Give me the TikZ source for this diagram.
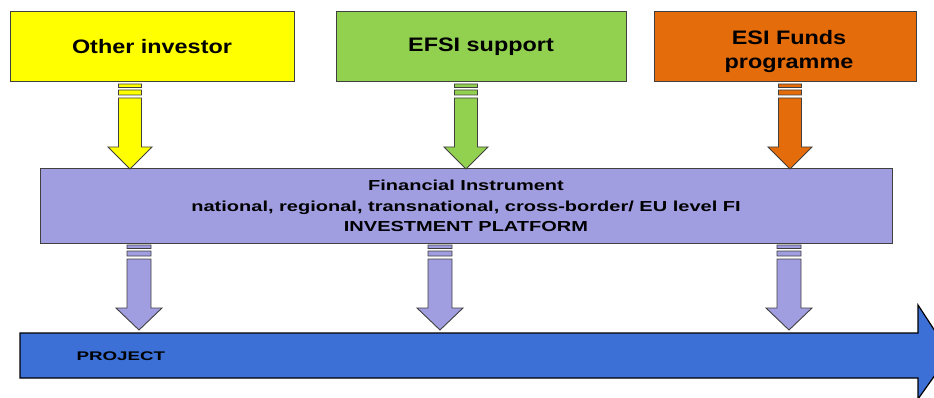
\documentclass[tikz,border=0pt]{standalone}
\usepackage{fontspec}
\setmainfont{Liberation Sans}
\newfontfamily\topfont[FakeStretch=1.2]{Liberation Sans}
\newfontfamily\fifont[FakeStretch=1.38]{Liberation Sans}
\newfontfamily\prfont[FakeStretch=1.5]{Liberation Sans}
\usetikzlibrary{calc}
\definecolor{cyel}{HTML}{FFFF00}
\definecolor{cgrn}{HTML}{92D050}
\definecolor{corg}{HTML}{E46C0A}
\definecolor{clav}{HTML}{A09EE0}
\definecolor{cblu}{HTML}{3C70D6}
\definecolor{cedge}{HTML}{404040}
\newcommand{\stripearrow}[5]{% start, end, colour, body half width, head half width
  \path let \p1=(#1), \p2=(#2) in
    [draw=cedge, line width=0.9pt, fill=#3]
      (\x1-#4pt,\y1-15pt) -- (\x1-#4pt,\y2+22pt) -- (\x1-#5pt,\y2+22pt) -- (\x1,\y2)
      -- (\x1+#5pt,\y2+22pt) -- (\x1+#4pt,\y2+22pt) -- (\x1+#4pt,\y1-15pt) -- cycle
    [draw=cedge, line width=0.9pt, fill=#3!55!black]
      (\x1-#4pt,\y1-1pt) rectangle (\x1+#4pt,\y1-4.5pt)
    [draw=cedge, line width=0.9pt, fill=#3]
      (\x1-#4pt,\y1-7pt) rectangle (\x1+#4pt,\y1-12pt);
}
\tikzset{
  topbox/.style={draw=cedge, line width=1pt, minimum height=70pt, inner sep=2pt,
    font=\topfont\fontsize{19.5}{24}\selectfont\bfseries, align=center},
  fibox/.style={draw=cedge, line width=1pt, fill=clav, minimum width=852pt, minimum height=74pt,
    font=\fifont\fontsize{14.5}{20.5}\selectfont\bfseries, align=center},
  lbl/.style={font=\prfont\fontsize{12.5}{14}\selectfont\bfseries}
}
\begin{document}
\begin{tikzpicture}[x=1pt,y=1pt]
\clip (0,0) rectangle (934,-398);
\fill[white] (0,0) rectangle (934,-398);

\node[topbox, fill=cyel, minimum width=284pt] (oi) at (152,-47) {Other investor};
\node[topbox, fill=cgrn, minimum width=290pt] (ef) at (481,-47) {EFSI support};
\node[topbox, fill=corg, minimum width=262pt] (es) at (785,-47)
  {\hspace*{8pt}\raisebox{-5pt}[\height][\depth]{\begin{tabular}{@{}c@{}}ESI Funds\\programme\end{tabular}}};

\node[fibox] (fi) at (466,-206) {Financial Instrument\\national, regional, transnational, cross-border/ EU level FI\\INVESTMENT PLATFORM};

% project arrow
\draw[draw=black, line width=1.2pt, fill=cblu]
  (20,-333) -- (918,-333) -- (918,-305) -- (950,-354) -- (918,-399) -- (918,-378) -- (20,-378) -- cycle;
\node[lbl, anchor=west] (pr) at (73,-356) {PROJECT};

% arrow end points
\coordinate (a1s) at (130,-83);  \coordinate (a1e) at (130,-169);
\coordinate (a2s) at (466,-83);  \coordinate (a2e) at (466,-169);
\coordinate (a3s) at (790,-83);  \coordinate (a3e) at (790,-169);
\coordinate (b1s) at (139,-244); \coordinate (b1e) at (139,-330);
\coordinate (b2s) at (440,-244); \coordinate (b2e) at (440,-330);
\coordinate (b3s) at (789,-244); \coordinate (b3e) at (789,-330);

\stripearrow{a1s}{a1e}{cyel}{11.5}{22}
\stripearrow{a2s}{a2e}{cgrn}{11.5}{22}
\stripearrow{a3s}{a3e}{corg}{11.5}{22}
\stripearrow{b1s}{b1e}{clav}{12}{23}
\stripearrow{b2s}{b2e}{clav}{12}{23}
\stripearrow{b3s}{b3e}{clav}{12}{23}
\end{tikzpicture}
\end{document}
